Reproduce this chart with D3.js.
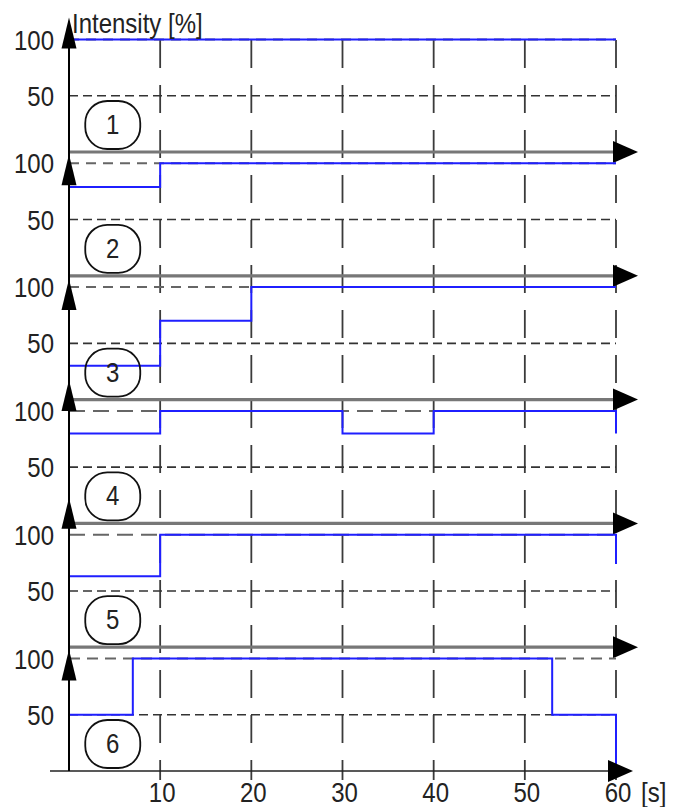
<!DOCTYPE html>
<html>
<head>
<meta charset="utf-8">
<script src="https://cdn.jsdelivr.net/npm/d3@7"></script>
<style>
  body { margin: 0; background: #fff; }
  svg { display: block; }
  text { font-family: "Liberation Sans", Arial, sans-serif; fill: #222; }
</style>
</head>
<body>
<svg id="chart" width="683" height="807"></svg>
<script>
// time ticks along the bottom axis (seconds)
const timeTicks = [10, 20, 30, 40, 50, 60];
// intensity levels marked on every panel
const levelTicks = [50, 100];
const badgeLabels = ["1", "2", "3", "4", "5", "6"];

// step profiles: [time s, intensity %] - value holds until next point
const panel1 = [[0, 100], [60, 100]];
const panel2 = [[0, 79], [10, 100], [60, 100]];
const panel3 = [[0, 30], [10, 70], [20, 100], [60, 100]];
const panel4 = [[0, 80], [10, 100], [30, 80], [40, 100], [60, 100], [60, 80]];
const panel5 = [[0, 63], [10, 100], [60, 100], [60, 74]];
const panel6 = [[0, 50], [7, 100], [53, 50], [60, 0]];
const panels = [panel1, panel2, panel3, panel4, panel5, panel6];

const svg = d3.select("#chart");
const x = d3.scaleLinear().domain([0, 60]).range([69, 616]);
const panelBase = i => 152 + 123.8 * i;
const yOf = i => d3.scaleLinear().domain([0, 100]).range([panelBase(i), panelBase(i) - 112.5]);

// dash style of the 100% reference line differs a bit between panels
const dash100 = ["10,7", "10,7", "10,7", "16,8", "16,8", "11,7"];
// where the little up-arrow of each panel starts (px above the 100 line)
const arrowLift = [22, 9, 8, 31, 37, 9];

// vertical grid
svg.append("g")
  .selectAll("line")
  .data(timeTicks)
  .enter()
  .append("line")
  .attr("x1", d => x(d)).attr("x2", d => x(d))
  .attr("y1", 40).attr("y2", 780)
  .attr("stroke", "#3a3a3a")
  .attr("stroke-width", 1.8)
  .attr("stroke-dasharray", "28,17");

panels.forEach((data, i) => {
  const y = yOf(i);
  const g = svg.append("g");

  // dashed 50 / 100 lines
  g.selectAll(".lvl")
    .data(levelTicks)
    .enter()
    .append("line")
    .attr("x1", x(0)).attr("x2", x(60))
    .attr("y1", d => y(d)).attr("y2", d => y(d))
    .attr("stroke", d => d === 100 ? "#666" : "#333")
    .attr("stroke-width", d => d === 100 ? 2 : 1.6)
    .attr("stroke-dasharray", d => d === 100 ? dash100[i] : "9,5");

  // time axis of the panel
  const last = i === panels.length - 1;
  const tip = last ? 633 : 638;
  g.append("line")
    .attr("x1", last ? 50 : x(0)).attr("x2", tip - 20)
    .attr("y1", y(0)).attr("y2", y(0))
    .attr("stroke", last ? "#222" : "#777")
    .attr("stroke-width", last ? 1.6 : 3.2);

  // intensity step line
  const line = d3.line()
    .x(d => x(d[0]))
    .y(d => y(d[1]))
    .curve(d3.curveStepAfter);
  g.append("path")
    .attr("d", line(data))
    .attr("fill", "none")
    .attr("stroke", "#1f1fff")
    .attr("stroke-width", 2);

  g.append("path")
    .attr("d", `M${tip},${y(0)} L${tip - 25},${y(0) - 11} L${tip - 25},${y(0) + 11} Z`)
    .attr("fill", "#000");

  // up arrow on the intensity axis
  const t = y(100) - arrowLift[i];
  g.append("path")
    .attr("d", `M${x(0)},${t} L${x(0) - 7.5},${t + 31} L${x(0) + 7.5},${t + 31} Z`)
    .attr("fill", "#000");

  // numbered badge
  const cx = x(4.8), cy = y(0) - 27;
  g.append("rect")
    .attr("x", cx - 27.5).attr("y", cy - 24)
    .attr("width", 55).attr("height", 48)
    .attr("rx", 22).attr("ry", 22)
    .attr("fill", "none")
    .attr("stroke", "#111")
    .attr("stroke-width", 1.8);
  g.append("text")
    .attr("transform", `translate(${cx},${cy + 9}) scale(1,1.15)`)
    .attr("text-anchor", "middle")
    .attr("font-size", 24)
    .text(badgeLabels[i]);

  // level labels
  g.selectAll(".lab")
    .data(levelTicks)
    .enter()
    .append("text")
    .attr("transform", d => `translate(54,${y(d) + 10}) scale(1,1.15)`)
    .attr("text-anchor", "end")
    .attr("font-size", 24)
    .text(d => d);
});

// main intensity axis
svg.append("line")
  .attr("x1", x(0)).attr("x2", x(0))
  .attr("y1", 30).attr("y2", yOf(5)(0))
  .attr("stroke", "#000")
  .attr("stroke-width", 2);

svg.append("text")
  .attr("transform", "translate(72,33) scale(1,1.15)")
  .attr("font-size", 24)
  .text("Intensity [%]");

// time labels
svg.append("g")
  .selectAll("text")
  .data(timeTicks)
  .enter()
  .append("text")
  .attr("transform", d => `translate(${x(d) + 2},802) scale(1,1.15)`)
  .attr("text-anchor", "middle")
  .attr("font-size", 24)
  .text(d => d);

svg.append("text")
  .attr("transform", "translate(641,802) scale(1,1.15)")
  .attr("font-size", 24)
  .text("[s]");
</script>
</body>
</html>
